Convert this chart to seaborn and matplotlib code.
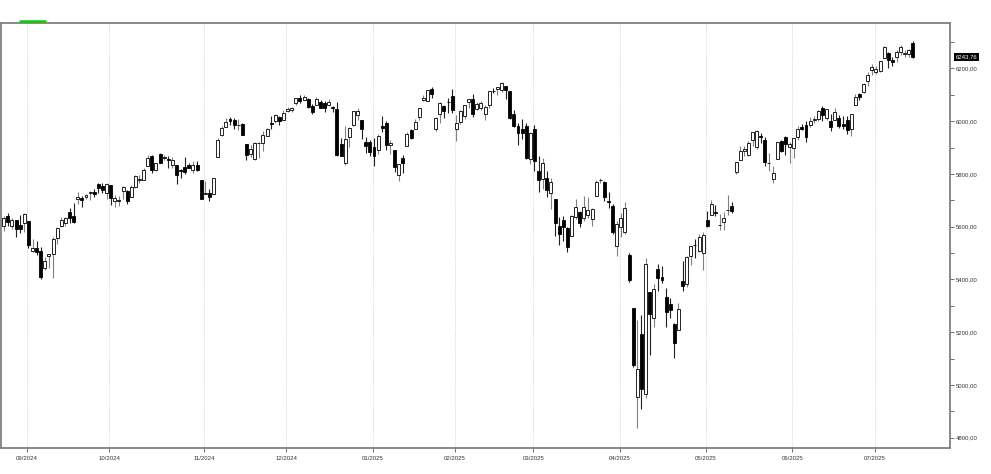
import matplotlib
matplotlib.use("Agg")
import matplotlib.pyplot as plt
import seaborn as sns
import pandas as pd
from matplotlib.ticker import MultipleLocator, FixedLocator, FuncFormatter

# daily sessions, Aug 2024 - Jul 2025
trade_days = [
    "2024-08-23", "2024-08-26", "2024-08-27", "2024-08-28", "2024-08-29", "2024-08-30",
    "2024-09-03", "2024-09-04", "2024-09-05", "2024-09-06", "2024-09-09", "2024-09-10", "2024-09-11",
    "2024-09-12", "2024-09-13", "2024-09-16", "2024-09-17", "2024-09-18", "2024-09-19", "2024-09-20",
    "2024-09-23", "2024-09-24", "2024-09-25", "2024-09-26", "2024-09-27", "2024-09-30",
    "2024-10-01", "2024-10-02", "2024-10-03", "2024-10-04", "2024-10-07", "2024-10-08", "2024-10-09",
    "2024-10-10", "2024-10-11", "2024-10-14", "2024-10-15", "2024-10-16", "2024-10-17", "2024-10-18",
    "2024-10-21", "2024-10-22", "2024-10-23", "2024-10-24", "2024-10-25", "2024-10-28", "2024-10-29",
    "2024-10-30", "2024-10-31",
    "2024-11-01", "2024-11-04", "2024-11-05", "2024-11-06", "2024-11-07", "2024-11-08", "2024-11-11",
    "2024-11-12", "2024-11-13", "2024-11-14", "2024-11-15", "2024-11-18", "2024-11-19", "2024-11-20",
    "2024-11-21", "2024-11-22", "2024-11-25", "2024-11-26", "2024-11-27", "2024-11-29",
    "2024-12-02", "2024-12-03", "2024-12-04", "2024-12-05", "2024-12-06", "2024-12-09", "2024-12-10",
    "2024-12-11", "2024-12-12", "2024-12-13", "2024-12-16", "2024-12-17", "2024-12-18", "2024-12-19",
    "2024-12-20", "2024-12-23", "2024-12-24", "2024-12-26", "2024-12-27", "2024-12-30", "2024-12-31",
    "2025-01-02", "2025-01-03", "2025-01-06", "2025-01-07", "2025-01-08", "2025-01-10", "2025-01-13",
    "2025-01-14", "2025-01-15", "2025-01-16", "2025-01-17", "2025-01-21", "2025-01-22", "2025-01-23",
    "2025-01-24", "2025-01-27", "2025-01-28", "2025-01-29", "2025-01-30", "2025-01-31",
    "2025-02-03", "2025-02-04", "2025-02-05", "2025-02-06", "2025-02-07", "2025-02-10", "2025-02-11",
    "2025-02-12", "2025-02-13", "2025-02-14", "2025-02-18", "2025-02-19", "2025-02-20", "2025-02-21",
    "2025-02-24", "2025-02-25", "2025-02-26", "2025-02-27", "2025-02-28",
    "2025-03-03", "2025-03-04", "2025-03-05", "2025-03-06", "2025-03-07", "2025-03-10", "2025-03-11",
    "2025-03-12", "2025-03-13", "2025-03-14", "2025-03-17", "2025-03-18", "2025-03-19", "2025-03-20",
    "2025-03-21", "2025-03-24", "2025-03-25", "2025-03-26", "2025-03-27", "2025-03-28", "2025-03-31",
    "2025-04-01", "2025-04-02", "2025-04-03", "2025-04-04", "2025-04-07", "2025-04-08", "2025-04-09",
    "2025-04-10", "2025-04-11", "2025-04-14", "2025-04-15", "2025-04-16", "2025-04-17", "2025-04-21",
    "2025-04-22", "2025-04-23", "2025-04-24", "2025-04-25", "2025-04-28", "2025-04-29", "2025-04-30",
    "2025-05-01", "2025-05-02", "2025-05-05", "2025-05-06", "2025-05-07", "2025-05-08", "2025-05-09",
    "2025-05-12", "2025-05-13", "2025-05-14", "2025-05-15", "2025-05-16", "2025-05-19", "2025-05-20",
    "2025-05-21", "2025-05-22", "2025-05-23", "2025-05-27", "2025-05-28", "2025-05-29", "2025-05-30",
    "2025-06-02", "2025-06-03", "2025-06-04", "2025-06-05", "2025-06-06", "2025-06-09", "2025-06-10",
    "2025-06-11", "2025-06-12", "2025-06-13", "2025-06-16", "2025-06-17", "2025-06-18", "2025-06-20",
    "2025-06-23", "2025-06-24", "2025-06-25", "2025-06-26", "2025-06-27", "2025-06-30",
    "2025-07-01", "2025-07-02", "2025-07-03", "2025-07-07", "2025-07-08", "2025-07-09", "2025-07-10",
    "2025-07-11", "2025-07-14", "2025-07-15",
]

opens = [
    5602, 5639, 5602, 5624, 5607, 5612,
    5623, 5506, 5520, 5507, 5443, 5490, 5496, 5558, 5603, 5615, 5655, 5641, 5703, 5709,
    5711, 5727, 5733, 5762, 5756, 5727,
    5757, 5698, 5698, 5737, 5737, 5714, 5752, 5778, 5775, 5829, 5866, 5816, 5875, 5860,
    5857, 5832, 5835, 5816, 5826, 5833, 5816, 5835, 5775,
    5724, 5726, 5722, 5864, 5947, 5976, 6008, 6004, 5985, 5989, 5912, 5874, 5858, 5917,
    5917, 5944, 5992, 6000, 6014, 6003,
    6040, 6042, 6069, 6089, 6081, 6083, 6057, 6060, 6074, 6068, 6063, 6053, 6047, 5912,
    5842, 5940, 5985, 6024, 6006, 5920, 5920,
    5903, 5891, 5982, 5993, 5910, 5890, 5794, 5859, 5905, 5967, 5969, 6015, 6082, 6076,
    6121, 5969, 6027, 6057, 6074, 6096,
    5970, 5998, 6021, 6072, 6083, 6047, 6049, 6026, 6060, 6115, 6121, 6118, 6134, 6114,
    6027, 5983, 5971, 5982, 5856,
    5969, 5812, 5782, 5785, 5726, 5705, 5603, 5624, 5594, 5563, 5635, 5655, 5632, 5646,
    5630, 5718, 5776, 5771, 5696, 5679, 5527,
    5598, 5581, 5492, 5292, 4953, 5194, 4966, 5353, 5255, 5441, 5411, 5335, 5305, 5232,
    5207, 5395, 5381, 5489, 5529, 5508, 5500,
    5625, 5645, 5655, 5606, 5619, 5663, 5680, 5808, 5854, 5885, 5870, 5929, 5902, 5945,
    5927, 5841, 5781, 5855, 5926, 5939, 5903,
    5897, 5939, 5978, 5985, 5987, 6005, 6009, 6049, 6010, 6000, 6004, 6012, 5988, 6004,
    5970, 6062, 6104, 6112, 6151, 6193,
    6187, 6191, 6240, 6259, 6230, 6243, 6263, 6255, 6255, 6296,
]

highs = [
    5641, 5651, 5631, 5627, 5646, 5651,
    5623, 5552, 5546, 5522, 5484, 5497, 5560, 5600, 5636, 5636, 5670, 5690, 5733, 5715,
    5725, 5735, 5741, 5767, 5765, 5765,
    5757, 5720, 5718, 5753, 5739, 5757, 5796, 5795, 5822, 5871, 5870, 5843, 5879, 5873,
    5866, 5863, 5835, 5817, 5863, 5842, 5848, 5850, 5775,
    5772, 5741, 5783, 5936, 5983, 6012, 6017, 6010, 6008, 5993, 5915, 5909, 5920, 5921,
    5964, 5973, 6020, 6026, 6021, 6044,
    6053, 6052, 6089, 6099, 6099, 6088, 6065, 6093, 6080, 6078, 6085, 6058, 6071, 5936,
    5982, 5979, 6040, 6050, 6006, 5941, 5930,
    5935, 5950, 6021, 6000, 5927, 5890, 5839, 5871, 5960, 5970, 6008, 6051, 6100, 6118,
    6128, 6017, 6074, 6063, 6087, 6120,
    6023, 6042, 6062, 6084, 6101, 6074, 6076, 6063, 6116, 6127, 6129, 6147, 6134, 6115,
    6044, 5992, 6009, 5994, 5959,
    5987, 5866, 5860, 5812, 5783, 5705, 5636, 5642, 5597, 5646, 5704, 5660, 5715, 5711,
    5670, 5775, 5786, 5772, 5732, 5685, 5620,
    5651, 5695, 5500, 5292, 5246, 5267, 5481, 5353, 5381, 5459, 5450, 5368, 5328, 5233,
    5309, 5469, 5490, 5528, 5554, 5571, 5581,
    5659, 5700, 5683, 5649, 5655, 5720, 5692, 5847, 5906, 5906, 5925, 5958, 5968, 5954,
    5939, 5878, 5830, 5922, 5930, 5944, 5922,
    5937, 5982, 5991, 5999, 6016, 6021, 6044, 6059, 6046, 6027, 6050, 6024, 6018, 6018,
    6028, 6101, 6108, 6146, 6187, 6216,
    6210, 6227, 6284, 6262, 6243, 6269, 6290, 6269, 6273, 6303,
]

lows = [
    5585, 5602, 5593, 5561, 5577, 5581,
    5521, 5503, 5492, 5402, 5434, 5442, 5406, 5535, 5600, 5604, 5614, 5615, 5686, 5674,
    5704, 5702, 5714, 5728, 5727, 5703,
    5681, 5674, 5677, 5703, 5685, 5713, 5746, 5764, 5775, 5829, 5804, 5810, 5840, 5851,
    5824, 5822, 5762, 5784, 5799, 5822, 5803, 5811, 5703,
    5723, 5696, 5722, 5864, 5944, 5976, 5986, 5970, 5966, 5946, 5853, 5865, 5853, 5860,
    5885, 5944, 5972, 5993, 5984, 6003,
    6035, 6034, 6061, 6069, 6079, 6048, 6027, 6060, 6051, 6036, 6059, 6035, 5868, 5867,
    5832, 5903, 5983, 6004, 5932, 5879, 5868,
    5829, 5876, 5960, 5890, 5874, 5809, 5774, 5805, 5905, 5933, 5969, 6006, 6075, 6075,
    6088, 5962, 5994, 6012, 6032, 6030,
    5923, 5990, 6007, 6051, 6017, 6042, 6042, 6003, 6051, 6107, 6099, 6111, 6084, 6008,
    5977, 5908, 5932, 5858, 5837,
    5810, 5733, 5742, 5711, 5666, 5564, 5529, 5546, 5505, 5563, 5628, 5597, 5622, 5632,
    5603, 5718, 5764, 5699, 5670, 5572, 5489,
    5562, 5572, 5390, 5069, 4835, 4910, 4950, 5115, 5220, 5358, 5386, 5220, 5255, 5101,
    5207, 5356, 5372, 5455, 5483, 5505, 5434,
    5597, 5644, 5640, 5589, 5587, 5645, 5650, 5800, 5854, 5868, 5867, 5907, 5895, 5918,
    5830, 5810, 5767, 5855, 5883, 5873, 5843,
    5862, 5927, 5966, 5921, 5978, 5994, 6000, 6002, 6003, 5963, 6004, 5974, 5971, 5952,
    5943, 6060, 6080, 6107, 6133, 6175,
    6177, 6187, 6240, 6201, 6210, 6225, 6251, 6242, 6244, 6241,
]

closes = [
    5634.61, 5616.84, 5625.80, 5592.18, 5591.96, 5648.40,
    5528.93, 5520.07, 5503.41, 5408.42, 5471.05, 5495.52, 5554.13, 5595.76, 5626.02, 5633.09,
    5634.58, 5618.26, 5713.64, 5702.55, 5718.57, 5732.93, 5722.26, 5745.37, 5738.17, 5762.48,
    5708.75, 5709.54, 5699.94, 5751.07, 5695.94, 5751.13, 5792.04, 5780.05, 5815.03, 5859.85,
    5815.26, 5842.47, 5841.47, 5864.67, 5853.98, 5851.20, 5797.42, 5809.86, 5808.12, 5823.52,
    5832.92, 5813.67, 5705.45,
    5728.80, 5712.69, 5782.76, 5929.04, 5973.10, 5995.54, 6001.35, 5983.99, 5985.38, 5949.17,
    5870.62, 5893.62, 5916.98, 5917.11, 5948.71, 5969.34, 5987.37, 6021.63, 5998.74, 6032.38,
    6047.15, 6049.88, 6086.49, 6075.11, 6090.27, 6052.85, 6034.91, 6084.19, 6051.25, 6051.09,
    6074.08, 6050.61, 5872.16, 5867.08, 5930.85, 5974.07, 6040.04, 6037.59, 5970.84, 5906.94,
    5881.63,
    5868.55, 5942.47, 5975.38, 5909.03, 5918.25, 5827.04, 5836.22, 5842.91, 5949.91, 5937.34,
    5996.66, 6049.24, 6086.37, 6118.71, 6101.24, 6012.28, 6067.70, 6039.31, 6071.17, 6040.53,
    5994.57, 6037.88, 6061.48, 6083.57, 6025.99, 6066.44, 6068.50, 6051.97, 6115.07, 6114.63,
    6129.58, 6144.15, 6117.52, 6013.13, 5983.25, 5955.25, 5956.06, 5861.57, 5954.50,
    5849.72, 5778.15, 5842.63, 5738.52, 5770.20, 5614.56, 5572.07, 5599.30, 5521.52, 5638.94,
    5675.12, 5614.66, 5675.29, 5662.89, 5667.56, 5767.57, 5776.65, 5712.20, 5693.31, 5580.94,
    5611.85,
    5633.07, 5670.97, 5396.52, 5074.08, 5062.25, 4982.77, 5456.90, 5268.05, 5363.36, 5405.97,
    5396.63, 5275.70, 5282.70, 5158.20, 5287.76, 5375.86, 5484.77, 5525.21, 5528.75, 5560.83,
    5569.06,
    5604.14, 5686.67, 5650.38, 5606.91, 5631.28, 5663.94, 5659.91, 5844.19, 5886.55, 5892.58,
    5916.93, 5958.38, 5963.60, 5940.46, 5844.61, 5842.01, 5802.82, 5921.54, 5888.55, 5912.17,
    5911.69,
    5935.94, 5970.37, 5970.81, 5939.30, 6000.36, 6005.88, 6038.81, 6022.24, 6045.26, 5976.97,
    6033.11, 5982.72, 5980.87, 5967.84, 6025.17, 6092.18, 6092.16, 6141.02, 6173.07, 6204.95,
    6198.01, 6227.42, 6279.35, 6229.98, 6225.52, 6263.26, 6280.46, 6259.75, 6268.56, 6243.76,
]

df = pd.DataFrame({"date": pd.to_datetime(trade_days), "open": opens, "high": highs,
                   "low": lows, "close": closes})
df["pos"] = range(len(df))
df["up"] = df["close"] >= df["open"]

sns.set_theme(style="white")
plt.rcParams["font.family"] = ["Liberation Sans", "DejaVu Sans"]

fig = plt.figure(figsize=(9.91, 4.74), dpi=100)
ax = fig.add_axes([1 / 991, 26 / 474, 949 / 991, 425 / 474])

# wicks
up = df[df["up"]]
dn = df[~df["up"]]
ax.vlines(up["pos"], up["low"], up["high"], color="#808080", lw=0.8, zorder=2)
ax.vlines(dn["pos"], dn["low"], dn["high"], color="#202020", lw=0.8, zorder=2)

# bodies
body = (df["close"] - df["open"]).abs().clip(lower=1.5)
bottom = df[["open", "close"]].min(axis=1)
ax.bar(df["pos"], body, bottom=bottom, width=0.72,
       color=["white" if u else "black" for u in df["up"]],
       edgecolor="black", linewidth=0.6, zorder=3)

ax.set_xlim(-0.66, 230)
ax.set_ylim(4761, 6372)

# month separators
month_start = df.groupby(df["date"].dt.to_period("M"))["pos"].min()
month_pos = [p - 0.3 for p in month_start.values[1:]]
month_lab = [d.strftime("%m/%Y") for d in month_start.index[1:].to_timestamp()]
ax.xaxis.set_major_locator(FixedLocator(month_pos))
ax.set_xticklabels(month_lab)
for p in month_pos:
    ax.axvline(p, color="#c8c8c8", lw=0.6, ls=(0, (1, 1.5)), zorder=1)

ax.yaxis.tick_right()
ax.yaxis.set_major_locator(MultipleLocator(200))
ax.yaxis.set_minor_locator(MultipleLocator(100))
ax.yaxis.set_major_formatter(FuncFormatter(lambda v, _: f"{v:.2f}".replace(".", ",")))
ax.tick_params(axis="y", which="both", right=True, left=False, length=3, width=0.6,
               color="#555555", labelsize=4.3, labelcolor="#333333", pad=1.5, direction="out")
ax.tick_params(axis="x", bottom=True, length=3, width=0.6, color="#555555",
               labelsize=4.3, labelcolor="#333333", pad=3, direction="out")

for s in ax.spines.values():
    s.set_color("#808080")
    s.set_linewidth(1.3)

# last price tag
last = df["close"].iloc[-1]
ax.text(1.006, last, f"{last:.2f}".replace(".", ","), transform=ax.get_yaxis_transform(),
        ha="left", va="center", fontsize=4.3, color="white", clip_on=False,
        bbox=dict(boxstyle="square,pad=0.25", facecolor="black", edgecolor="none"))

# small green marker on top border
ax.plot([0.019, 0.047], [1.004, 1.004], transform=ax.transAxes, color="#00d000",
        lw=1.8, clip_on=False, solid_capstyle="butt", zorder=10)

fig.savefig("out.png", dpi=100)
